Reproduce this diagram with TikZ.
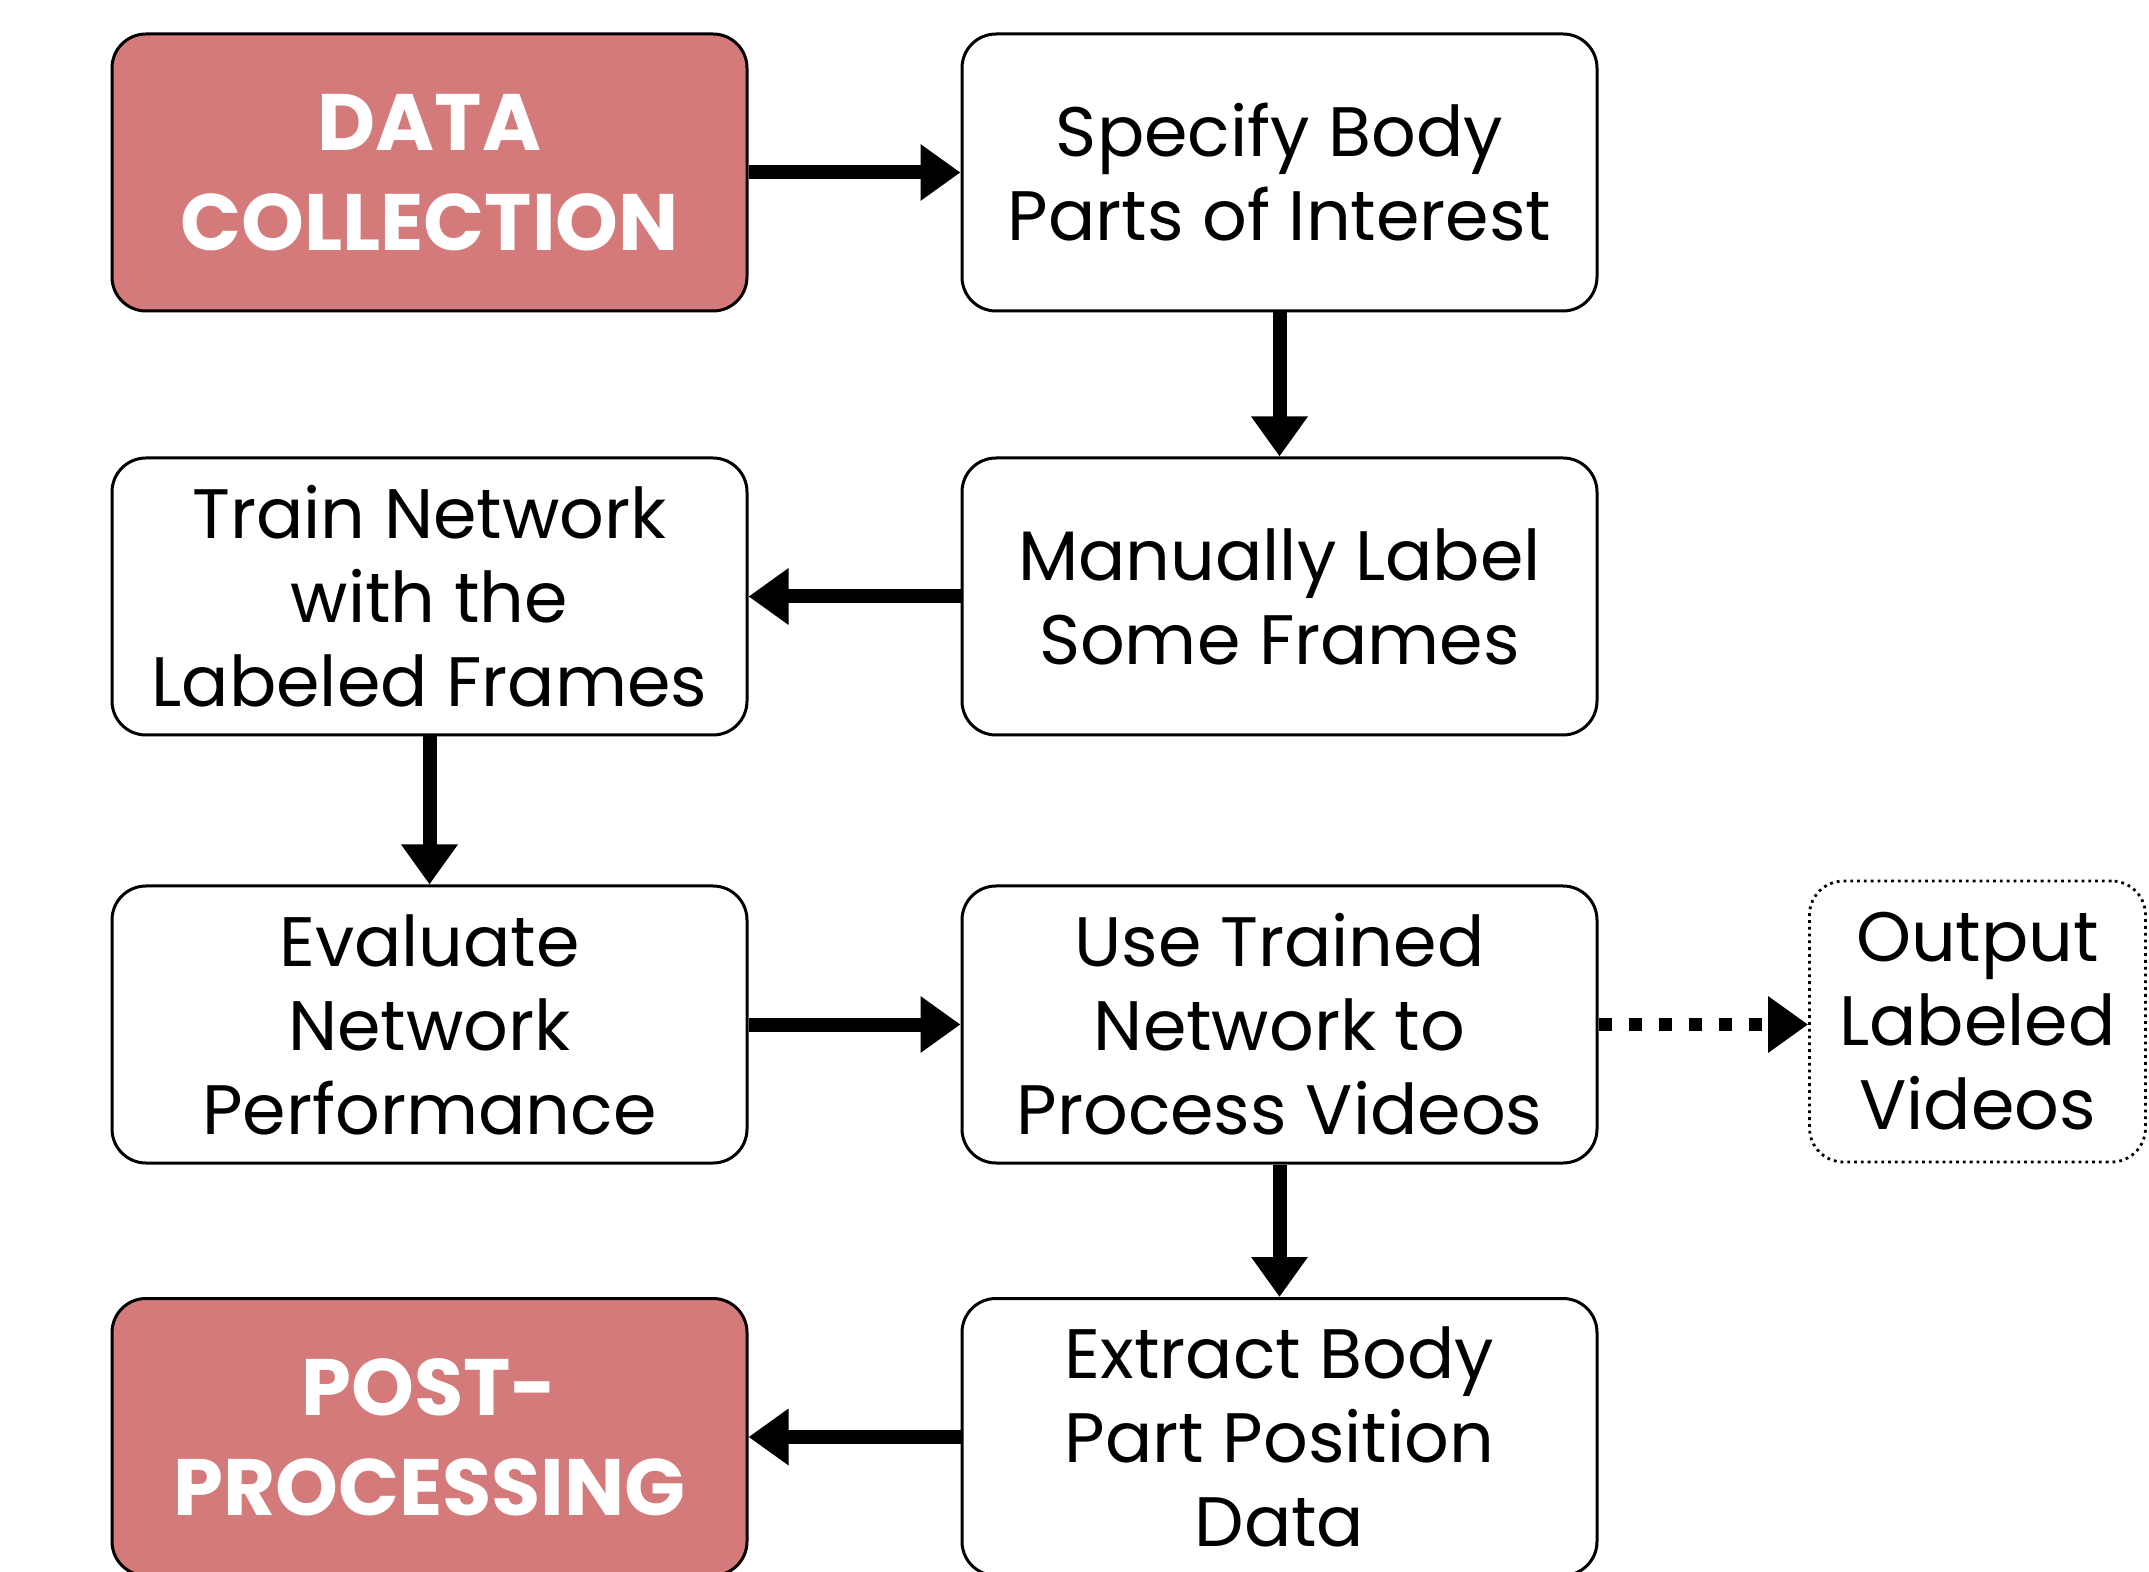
\documentclass[tikz,border=0pt]{standalone}
\usepackage{fontspec}
\setmainfont{Poppins}
\usetikzlibrary{arrows.meta}
\definecolor{stagefill}{RGB}{212,122,122}
\tikzset{
  stepbox/.style={draw=black, line width=1.5pt, rounded corners=17pt, fill=white,
    minimum width=317.5pt, minimum height=138.5pt, inner sep=0pt, align=center,
    font=\fontsize{35}{42}\selectfont},
  stagebox/.style={stepbox, fill=stagefill, text=white,
    font=\fontsize{40}{50}\selectfont\bfseries},
  outbox/.style={draw=black, line width=1.4pt, dotted, rounded corners=17pt,
    minimum width=168pt, minimum height=140.5pt, inner sep=0pt, align=center,
    font=\fontsize{35}{42}\selectfont},
  flow/.style={line width=7pt, -{Triangle[length=20pt,width=27pt]}},
  dotflow/.style={line width=6.5pt, dash pattern=on 6.5pt off 8.5pt,
    -{Triangle[length=20pt,width=27pt]}}
}
\begin{document}
\begin{tikzpicture}[x=0.5pt,y=-0.5pt]
\useasboundingbox[fill=white] (0,0) rectangle (2149,1572);
\clip (0,0) rectangle (2149,1572);
% stages of the pipeline
\node[stagebox] (dc)    at (429.5,172.5)  {DATA\\COLLECTION};
\node[stepbox]  (spec)  at (1279.5,172.5) {Specify Body\\Parts of Interest};
\node[stepbox]  (train) at (429.5,596.5)  {Train Network\\with the\\Labeled Frames};
\node[stepbox]  (label) at (1279.5,596.5) {Manually Label\\Some Frames};
\node[stepbox]  (eval)  at (429.5,1024.5)  {Evaluate\\Network\\Performance};
\node[stepbox]  (use)   at (1279.5,1024.5) {Use Trained\\Network to\\Process Videos};
\node[outbox]   (out)   at (1977.5,1021.5) {Output\\Labeled\\Videos};
\node[stagebox] (post)  at (429.5,1437)  {POST-\\PROCESSING};
\node[stepbox]  (ext)   at (1279.5,1437) {Extract Body\\Part Position\\Data};
% connectors
\draw[flow] (dc.east) -- (spec.west);
\draw[flow] (spec.south) -- (label.north);
\draw[flow] (label.west) -- (train.east);
\draw[flow] (train.south) -- (eval.north);
\draw[flow] (eval.east) -- (use.west);
\draw[dotflow] (use.east) -- (out.west |- use.east);
\draw[flow] (use.south) -- (ext.north);
\draw[flow] (ext.west) -- (post.east);
\end{tikzpicture}
\end{document}
